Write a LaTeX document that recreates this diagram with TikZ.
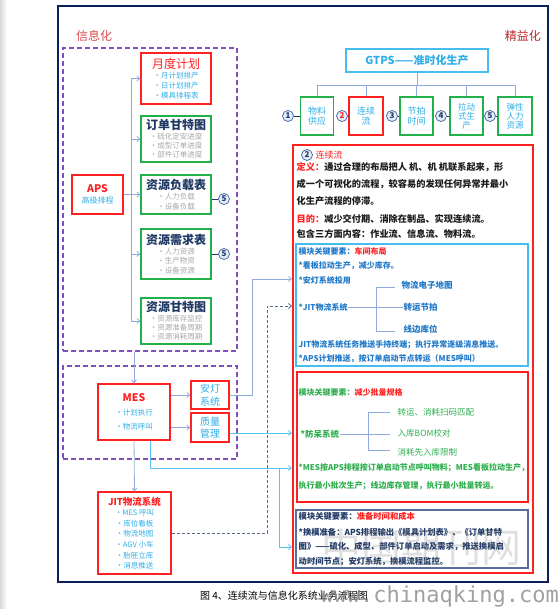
\documentclass[tikz,border=0pt]{standalone}
\usepackage{fontspec}
\setmainfont{Noto Sans CJK SC}
\newfontfamily\wmfont{DejaVu Sans Mono}
\usetikzlibrary{arrows.meta}
\newcommand\fsz[2]{\fontsize{#1}{#2}\selectfont}
\definecolor{frame}{HTML}{0B1F5E}
\definecolor{purp}{HTML}{8050C0}
\definecolor{rd}{HTML}{FF2020}
\definecolor{grn}{HTML}{22B04A}
\definecolor{sky}{HTML}{2FAEE6}
\definecolor{skyb}{HTML}{45BDF0}
\definecolor{navy}{HTML}{1F3864}
\definecolor{steel}{HTML}{8FAADC}
\definecolor{skyline}{HTML}{55C4F0}
\definecolor{itemgray}{HTML}{A6A6A6}
\definecolor{modblue}{HTML}{1F78C8}
\definecolor{modgreen}{HTML}{2DAE4E}
\definecolor{modnavy}{HTML}{5A6E9A}
\definecolor{dashnavy}{HTML}{55698F}
\definecolor{titlered}{HTML}{D84B4B}
\definecolor{darkred}{HTML}{C0282D}
\definecolor{numc}{HTML}{3F5F9F}
\definecolor{numfill}{HTML}{E3ECF8}
\definecolor{deftext}{HTML}{1A1A1A}
\begin{document}
\begin{tikzpicture}[x=1pt,y=-1pt,
  box/.style={draw, line width=1.2pt, inner sep=1pt, align=center},
  redbox/.style={box, draw=rd},
  greenbox/.style={box, draw=grn},
  dashbox/.style={draw=purp, line width=1.3pt, dash pattern=on 5pt off 3pt, inner sep=0pt},
  steelline/.style={draw=steel, line width=0.8pt},
  skyc/.style={draw=skyline, line width=0.8pt},
  dashc/.style={draw=dashnavy, line width=0.8pt, dash pattern=on 3pt off 2pt},
  arr/.style={-{Straight Barb[length=3pt,width=5pt]}},
  num/.style={circle, draw=numc, fill=numfill, line width=0.7pt, minimum size=11pt, inner sep=0pt, font=\fsz{8}{8}\bfseries, text=navy},
  lbl/.style={anchor=west, inner sep=0.5pt},
]
\useasboundingbox (0,0) rectangle (559,609);
\shade[left color=black!15, right color=white] (0,0) rectangle (7,609);

% outer frame
\node[draw=frame, line width=1.2pt, minimum width=490pt, minimum height=576pt, inner sep=0pt] (outer) at (303,294) {};
\node[font=\fsz{12}{14}, text=titlered, anchor=west, inner sep=0pt] (xxh) at (76,36) {信息化};
\node[font=\fsz{12}{14}, text=darkred, anchor=east, inner sep=0pt] (jyh) at (541,36) {精益化};

% ---------- information side ----------
\node[dashbox, minimum width=174pt, minimum height=303pt] (infobox) at (150,199.5) {};
\node[dashbox, minimum width=174pt, minimum height=93pt] (mesbox) at (150,412.5) {};

\node[redbox, minimum width=70pt, minimum height=51pt, font=\fsz{7.5}{9.8}, text=sky] (yd) at (176,78.5)
 {{\fsz{12}{13}\color{rd}月度计划}\\[0.5pt]•月计划排产\\•日计划排产\\•模具排程表};
\node[greenbox, minimum width=70pt, minimum height=46pt, font=\fsz{7.5}{9.4}, text=itemgray] (dd) at (176,139)
 {{\fsz{12}{13}\bfseries\color{navy}订单甘特图}\\•硫化定安进度\\•成型订单进度\\•部件订单进度};
\node[greenbox, minimum width=70pt, minimum height=39pt, font=\fsz{7.5}{9.8}, text=itemgray] (fz) at (176,194.5)
 {{\fsz{12}{13}\bfseries\color{navy}资源负载表}\\•人力负载\\•设备负载};
\node[greenbox, minimum width=70pt, minimum height=50pt, font=\fsz{7.5}{9.6}, text=itemgray] (xq) at (176,254)
 {{\fsz{12}{13}\bfseries\color{navy}资源需求表}\\•人力资源\\•生产物资\\•设备资源};
\node[greenbox, minimum width=70pt, minimum height=46pt, font=\fsz{7.5}{9.4}, text=itemgray] (zg) at (176,321)
 {{\fsz{12}{13}\bfseries\color{navy}资源甘特图}\\•资源库存监控\\•资源准备周期\\•资源消耗周期};
\node[redbox, minimum width=51pt, minimum height=39pt, font=\fsz{8}{11}, text=sky] (aps) at (97.5,194.5)
 {{\fsz{10.5}{12}\bfseries\color{rd}APS}\\高级排程};

\coordinate (busT) at (131,78.5);
\coordinate (busB) at (131,321);
\draw[steelline] (busT) -- (busB);
\foreach \n in {yd,dd,fz,xq,zg} \draw[steelline,arr] (\n.west -| busT) -- (\n.west);
\draw[steelline] (aps.east) -- (aps.east -| busT);

\node[num] (c5a) at (224,199) {5};
\node[num] (c5b) at (224,254) {5};
\draw[draw=navy, line width=0.7pt] (c5a.west) -- (c5a.west -| fz.east);
\draw[draw=navy, line width=0.7pt] (c5b.west) -- (c5b.west -| xq.east);

\node[redbox, minimum width=72pt, minimum height=56pt, font=\fsz{7.5}{14}, text=sky] (mes) at (134,412)
 {{\fsz{10.5}{12}\bfseries\color{rd}MES}\\•计划执行\\•物流呼叫};
\node[redbox, minimum width=38pt, minimum height=28pt, font=\fsz{10}{12.5}, text=sky] (andon) at (210,395) {安灯\\系统};
\node[redbox, minimum width=38pt, minimum height=29pt, font=\fsz{10}{12.5}, text=sky] (quality) at (210,427.5) {质量\\管理};
\node[redbox, minimum width=73pt, minimum height=82pt, font=\fsz{7.5}{10.6}, text=sky] (jit) at (134.5,533)
 {{\fsz{9.5}{12}\bfseries\color{rd}JIT物流系统}\\•MES 呼叫\\•库位看板\\•物流地图\\•AGV 小车\\•胎胚立库\\•消息推送};

\draw[steelline,arr] (infobox.south -| mes.north) -- (mes.north);
\draw[steelline,arr] (mes.east |- andon.west) -- (andon.west);
\draw[steelline,arr] (mes.east |- quality.west) -- (quality.west);
\draw[steelline,arr] (mes.south) -- (jit.north);

% ---------- lean side ----------
\node[box, draw=skyb, minimum width=142pt, minimum height=23pt, font=\fsz{11}{12}\bfseries, text=sky] (gtps) at (417,60.5) {GTPS——准时化生产};
\node[greenbox, minimum width=33pt, minimum height=38pt, font=\fsz{9}{10.5}, text=sky] (s1) at (317,116) {物料\\供应};
\node[redbox, minimum width=34pt, minimum height=38pt, font=\fsz{9}{10.5}, text=sky] (s2) at (366,116) {连续\\流};
\node[greenbox, minimum width=33pt, minimum height=38pt, font=\fsz{9}{10.5}, text=sky] (s3) at (416.5,116) {节拍\\时间};
\node[greenbox, minimum width=33pt, minimum height=38pt, font=\fsz{8.5}{9}, text=sky] (s4) at (466.5,116) {拉动\\式生\\产};
\node[greenbox, minimum width=34pt, minimum height=38pt, font=\fsz{8.5}{9}, text=sky] (s5) at (515,116) {弹性\\人力\\资源};

\coordinate (tj) at (417,85);
\draw[steelline] (gtps.south) -- (tj);
\draw[steelline] (s1.north) -- (s1.north |- tj) -- (s5.north |- tj) -- (s5.north);
\foreach \n in {s2,s3,s4} \draw[steelline] (\n.north) -- (\n.north |- tj);

\node[num] (n1) at (288,116) {1};
\node[num, text=rd] (n2) at (342,116) {2};
\node[num] (n3) at (392,116) {3};
\node[num] (n4) at (441,116) {4};
\node[num] (n5) at (490,116) {5};
\foreach \a/\b in {n1/s1,n2/s2,n3/s3,n4/s4,n5/s5} \draw[draw=navy, line width=0.7pt] (\a.east) -- (\b.west);

% big detail box
\node[draw=rd, line width=1.2pt, minimum width=240pt, minimum height=428pt, inner sep=0pt] (bigr) at (413,359) {};
\node[num] (n2b) at (307,155) {2};
\node[lbl, font=\fsz{9}{10}, text=rd] (lxl) at (315,155) {连续流};
\begin{scope}[every node/.style={lbl, font=\fsz{9.2}{11}\bfseries, text=deftext}]
\node (d1) at (296,167) {{\color{rd}定义：}通过合理的布局把人 机、机 机联系起来，形};
\node (d2) at (296,184) {成一个可视化的流程，较容易的发现任何异常并最小};
\node (d3) at (296,201) {化生产流程的停滞。};
\node (d4) at (296,219) {{\color{rd}目的：}减少交付期、消除在制品、实现连续流。};
\node (d5) at (296,234) {包含三方面内容：作业流、信息流、物料流。};
\end{scope}

\node[draw=skyb, line width=1.2pt, minimum width=232pt, minimum height=122pt, inner sep=0pt] (mb1) at (412,305) {};
\node[draw=rd, line width=1.2pt, minimum width=231pt, minimum height=130pt, inner sep=0pt] (mb2) at (412.5,437) {};
\node[draw=modnavy, line width=1.2pt, minimum width=232pt, minimum height=58pt, inner sep=0pt] (mb3) at (412,539) {};

% module 1
\begin{scope}[every node/.style={lbl, font=\fsz{8}{9}\bfseries, text=modblue}]
\node (a1) at (298,251) {模块关键要素：{\color{rd}车间布局}};
\node (a2) at (298,266) {*看板拉动生产，减少库存。};
\node (a3) at (298,280) {*安灯系统投用};
\node (a4) at (298,307) {*JIT物流系统};
\node[font=\fsz{8.5}{9}\bfseries] (a5) at (401,285) {物流电子地图};
\node[font=\fsz{8.5}{9}\bfseries] (a6) at (403,307) {转运节拍};
\node[font=\fsz{8.5}{9}\bfseries] (a7) at (403,329) {线边库位};
\node (a8) at (298,345) {JIT物流系统任务推送手持终端；执行异常逐级消息推送。};
\node (a9) at (298,359) {*APS计划推送，按订单启动节点转运（MES呼叫）};
\end{scope}
\coordinate (b1t) at (376,287);
\coordinate (b1b) at (376,331);
\draw[steelline] (a4.east) -- (a6.west);
\draw[steelline] (b1t) -- (b1b);
\draw[steelline] (b1t) -- (395,287);
\draw[steelline] (b1b) -- (395,331);

% module 2
\begin{scope}[every node/.style={lbl, font=\fsz{8}{9}\bfseries, text=modgreen}]
\node (g1) at (298,392) {模块关键要素：{\color{rd}减少批量规格}};
\node[font=\fsz{8.5}{9}\bfseries] (g2) at (300,434) {*防呆系统};
\node[font=\fsz{8.5}{9}] (g3) at (397,412) {转运、消耗扫码匹配};
\node[font=\fsz{8.5}{9}] (g4) at (397,433) {入库BOM校对};
\node[font=\fsz{8.5}{9}] (g5) at (397,452) {消耗先入库限制};
\node (g6) at (298,468) {*MES按APS排程按订单启动节点呼叫物料；MES看板拉动生产，};
\node (g7) at (298,486) {执行最小批次生产；线边库存管理，执行最小批量转运。};
\end{scope}
\coordinate (b2t) at (368,412);
\coordinate (b2b) at (368,450);
\draw[steelline] (g2.east) -- (390,434);
\draw[steelline] (b2t) -- (b2b);
\draw[steelline] (b2t) -- (390,412);
\draw[steelline] (b2b) -- (390,450);

% module 3
\begin{scope}[every node/.style={lbl, font=\fsz{8.3}{9}\bfseries, text=navy}]
\node (h1) at (298,516) {模块关键要素：{\color{rd}准备时间和成本}};
\node (h2) at (298,532) {*换模准备：APS排程输出《模具计划表》、《订单甘特};
\node (h3) at (298,547) {图》——硫化、成型、部件订单启动及需求，推送换模启};
\node (h4) at (298,562) {动时间节点；安灯系统，换模流程监控。};
\end{scope}

% connectors left -> right
\coordinate (inA) at (292,279);
\coordinate (inJ) at (292,306);
\coordinate (inB) at (292,433);
\coordinate (inC) at (292,468);
\coordinate (inD) at (292,547);
\coordinate (kA) at (252,279);
\coordinate (mA) at (150,468);
\coordinate (mB) at (279,468);
\coordinate (mC) at (279,547);
\coordinate (jA) at (267,533);
\coordinate (jB) at (267,306);
\draw[steelline,arr] (andon.east) -- (andon.east -| kA) -- (kA) -- (inA);
\draw[dashc,arr] (jit.east |- jA) -- (jA) -- (jB) -- (inJ);
\draw[skyc,arr] (quality.east |- inB) -- (inB);
\draw[skyc,arr] (mes.south -| mA) -- (mA) -- (inC);
\draw[skyc,arr] (mB) -- (mC) -- (inD);

% caption and watermarks
\node[anchor=west, inner sep=0pt, font=\fsz{10}{12}] (cap) at (200,596) {图 4、连续流与信息化系统业务流程图};
\node[font=\fsz{40}{42}, text=gray, opacity=0.25, inner sep=0pt] (wm1) at (421,547) {中国期刊网};
\node[font=\wmfont\fsz{22}{24}, text=gray, opacity=0.75, anchor=east, inner sep=0pt] (wm2) at (559,596) {www.chinaqking.com};
\end{tikzpicture}
\end{document}
